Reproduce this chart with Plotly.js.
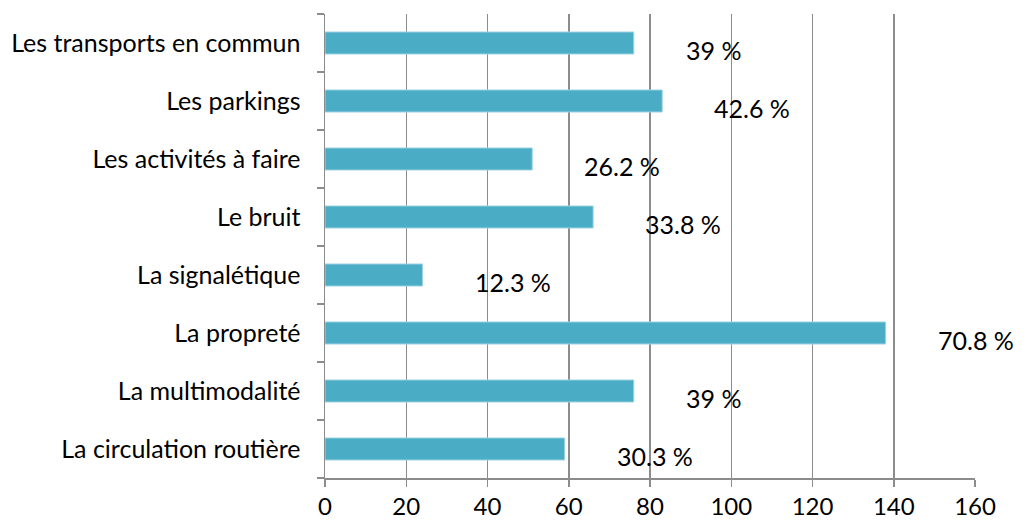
<!DOCTYPE html>
<html>
<head>
<meta charset="utf-8">
<script src="https://cdn.plot.ly/plotly-3.0.1.min.js"></script>
<style>html,body{margin:0;padding:0;background:#fff;}#chart{width:1029px;height:521px;}</style>
</head>
<body>
<div id="chart"></div>
<script>
var categories = ["La circulation routière", "La multimodalité", "La propreté", "La signalétique", "Le bruit", "Les activités à faire", "Les parkings", "Les transports en commun"];
var values = [59, 76, 138, 24, 66, 51, 83, 76];
var percentLabels = ["30.3 %", "39 %", "70.8 %", "12.3 %", "33.8 %", "26.2 %", "42.6 %", "39 %"];
var xTicks = [0, 20, 40, 60, 80, 100, 120, 140, 160];

var FONT = "Lato, 'Open Sans', sans-serif";
var trace = {
  type: "bar",
  orientation: "h",
  y: categories,
  x: values,
  width: 0.38,
  marker: {color: "#4BACC6", line: {color: "#9fd3e2", width: 1}},
  hoverinfo: "none"
};

var annotations = categories.map(function(c, i) {
  return {
    x: values[i], y: c, xref: "x", yref: "y",
    text: percentLabels[i], showarrow: false,
    xanchor: "left", yanchor: "middle",
    xshift: 50, yshift: -7,
    font: {family: FONT, size: 25, color: "#000"}
  };
});

var layout = {
  width: 1029, height: 521,
  margin: {l: 325, r: 54, t: 14, b: 43, pad: 0},
  paper_bgcolor: "#fff", plot_bgcolor: "#fff",
  showlegend: false,
  font: {family: FONT, size: 25, color: "#000"},
  xaxis: {
    range: [0, 160], tickvals: xTicks, ticktext: xTicks.map(String),
    showgrid: true, gridcolor: "#8c8c8c", gridwidth: 1.5,
    showline: true, linecolor: "#8c8c8c", linewidth: 1.5,
    ticks: "outside", ticklen: 7, tickcolor: "#8c8c8c", tickwidth: 1.5,
    ticklabelstandoff: 0,
    zeroline: false, fixedrange: true,
    tickfont: {family: FONT, size: 24, color: "#000"}
  },
  yaxis: {
    type: "category", categoryorder: "array", categoryarray: categories,
    showgrid: false, showline: true, linecolor: "#8c8c8c", linewidth: 1.5,
    ticks: "outside", ticklen: 7, tickcolor: "#8c8c8c", tickwidth: 1.5,
    tickson: "boundaries", ticklabelstandoff: 18,
    zeroline: false, fixedrange: true,
    tickfont: {family: FONT, size: 25, color: "#000"}
  },
  annotations: annotations
};

Plotly.newPlot("chart", [trace], layout, {displayModeBar: false, staticPlot: true});
</script>
</body>
</html>
